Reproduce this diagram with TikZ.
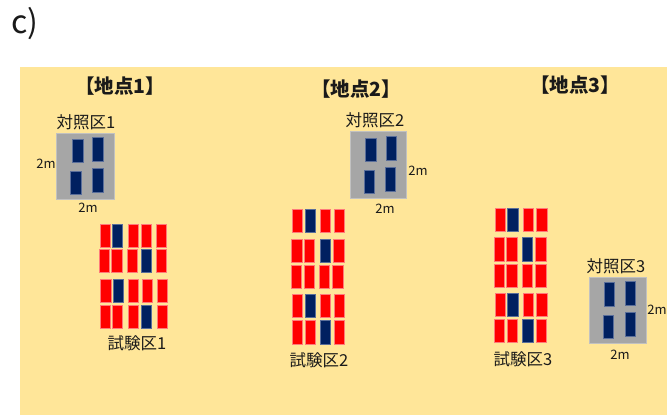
\documentclass[tikz,border=0pt]{standalone}
\usepackage{fontspec}
\setmainfont{Noto Sans CJK JP}
\definecolor{bgyellow}{HTML}{FFE699}
\definecolor{plotred}{HTML}{FF0000}
\definecolor{plotredline}{HTML}{FF7A7A}
\definecolor{plotnavy}{HTML}{002060}
\definecolor{plotnavyline}{HTML}{5A6E9A}
\definecolor{plotgray}{HTML}{A6A6A6}
\definecolor{txt}{HTML}{1A1A1A}
\tikzset{
  plotR/.style={fill=plotred, draw=plotredline, line width=0.8pt},
  plotN/.style={fill=plotnavy, draw=plotnavyline, line width=0.8pt},
  grayplot/.style={fill=plotgray, draw=plotgray!70!white, line width=0.8pt},
  lab/.style={inner sep=0pt, text=txt, font=\fontsize{16.5}{16.5}\selectfont},
  hdr/.style={inner sep=0pt, text=txt, font=\fontsize{19.5}{19.5}\selectfont\bfseries},
  dim/.style={inner sep=0pt, text=txt, font=\fontsize{13}{13}\selectfont},
}
\newcommand\plotrow[2]{%
  \foreach \px/\pc in {#2} {
    \path[plot\pc] (\px,#1) rectangle ++(10.5,23.5);
  }%
}
\newcommand\ctrlplot[2]{\path[plotN] (#1,#2) rectangle ++(10.5,23.5);}
\begin{document}
\begin{tikzpicture}[x=1pt,y=-1pt]
\useasboundingbox (0,0) rectangle (667,415);
\fill[bgyellow] (20,67) rectangle (667,415);
\node[inner sep=0pt, text=txt, font=\fontsize{32}{32}\selectfont] (title) at (25,24) {c)};
% headers
\node[hdr] (h1) at (120,86) {【地点1】};
\node[hdr] (h2) at (356,89) {【地点2】};
\node[hdr] (h3) at (575,85) {【地点3】};
% control plots
\path[grayplot] (56.7,133.3) rectangle (114,199);
\ctrlplot{72.7}{139}\ctrlplot{92.7}{137.7}\ctrlplot{70.7}{171}\ctrlplot{92.7}{168.5}
\path[grayplot] (350,131.7) rectangle (406.7,198.3);
\ctrlplot{365.7}{138.3}\ctrlplot{386}{136.7}\ctrlplot{364.3}{170}\ctrlplot{385.3}{167.7}
\path[grayplot] (589,277.3) rectangle (646.7,343.3);
\ctrlplot{604.3}{282.7}\ctrlplot{625}{281.7}\ctrlplot{603.3}{315}\ctrlplot{625}{312.7}
% site 1 test
\plotrow{224}{100/R,112.3/N,128/R,141/R,156/R}
\plotrow{249.3}{99.3/R,111.7/R,127.3/R,141/N,156/R}
\plotrow{279.3}{100.7/R,113.3/N,128.3/R,142.3/R,157.3/R}
\plotrow{305}{100/R,112.3/R,128/R,141.3/N,157.3/R}
% site 2 test
\plotrow{209}{292.3/R,305/N,320.3/R,334.3/R}
\plotrow{239}{291.7/R,304.3/R,320/N,333.7/R}
\plotrow{265}{291/R,304/R,319/R,332.7/R}
\plotrow{294.3}{292.3/R,305/N,320.3/R,334.3/R}
\plotrow{320.7}{292.3/R,305/R,320.3/N,334.3/R}
% site 3 test
\plotrow{208.3}{495/R,507.7/N,523/R,536.7/R}
\plotrow{237.7}{494/R,506.7/R,522/N,535.7/R}
\plotrow{264}{494/R,506.7/R,522/R,535.7/R}
\plotrow{293.3}{495/R,507.7/N,523/R,536.7/R}
\plotrow{319.3}{494.3/R,507.3/R,522.7/N,536/R}
% labels
\node[lab] (k1) at (86,122) {対照区1};
\node[lab] (k2) at (375,120) {対照区2};
\node[lab] (k3) at (616,266) {対照区3};
\node[lab] (t1) at (137,343) {試験区1};
\node[lab] (t2) at (319,360) {試験区2};
\node[lab] (t3) at (523,359) {試験区3};
\node[dim] (d1a) at (46,164) {2m};
\node[dim] (d1b) at (88,208) {2m};
\node[dim] (d2a) at (418,171) {2m};
\node[dim] (d2b) at (385,209) {2m};
\node[dim] (d3a) at (657,310) {2m};
\node[dim] (d3b) at (620,355) {2m};
\end{tikzpicture}
\end{document}
